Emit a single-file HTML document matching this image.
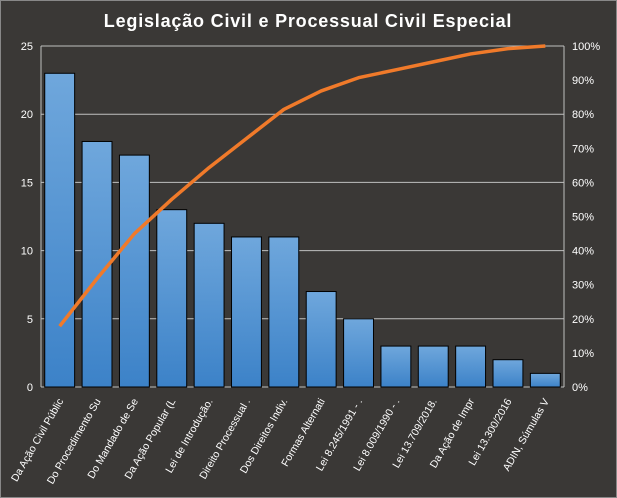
<!DOCTYPE html>
<html><head><meta charset="utf-8"><style>
body{margin:0;background:#3a3836;}
svg{display:block;font-family:"Liberation Sans",sans-serif;}
</style></head><body>
<svg id="chart" width="617" height="498">
<defs><linearGradient id="bg" x1="0" y1="0" x2="0" y2="1"><stop offset="0" stop-color="#6fa7dc"/><stop offset="1" stop-color="#3c82c8"/></linearGradient></defs>
<rect x="0.5" y="0.5" width="616" height="497" fill="#3a3836" stroke="#888"/>
<text x="308" y="27" text-anchor="middle" fill="#fff" font-size="18" font-weight="bold" letter-spacing="0.8">Legislação  Civil  e Processual  Civil Especial</text>
<g id="grid"></g><g id="bars"></g><g id="line"></g><g id="axes"></g>
</svg>
<script>
const categories=["Da Ação Civil Públic","Do Procedimento Su","Do Mandado de Se","Da Ação Popular (L","Lei de Introdução.","Direito Processual .","Dos Direitos Indiv.","Formas Alternati","Lei 8.245/1991 - .","Lei 8.009/1990 - .","Lei 13.709/2018.","Da Ação de Impr","Lei 13.300/2016","ADIN, Súmulas V"];
const counts=[23,18,17,13,12,11,11,7,5,3,3,3,2,1];
const leftTicks=[0,5,10,15,20,25];
const rightTicks=[0,10,20,30,40,50,60,70,80,90,100];
const NS="http://www.w3.org/2000/svg";
const L=41,R=564,T=46,B=387;
const slot=(R-L)/categories.length;
const y=v=>B-(v/25)*(B-T);
const yp=p=>B-(p/100)*(B-T);
const xc=i=>L+slot*(i+0.5);
function mk(tag,attrs,parent){const e=document.createElementNS(NS,tag);for(const k in attrs)e.setAttribute(k,attrs[k]);document.getElementById(parent).appendChild(e);return e;}
leftTicks.forEach(t=>{
 const g=mk("line",{x1:L,x2:R,y1:y(t),y2:y(t),stroke:"#bfbfbf","stroke-width":1},"grid");
 
 
 const tx=mk("text",{x:L-8,y:y(t)+4,"text-anchor":"end",fill:"#fff","font-size":11},"axes");
 tx.textContent=t;
 
 
});
rightTicks.forEach(t=>{
 const tx=mk("text",{x:R+8,y:yp(t)+4,fill:"#fff","font-size":11},"axes");
 tx.textContent=t+"%";
 
 
});
const ax=mk("line",{x1:L,x2:L,y1:T,y2:B,stroke:"#bfbfbf"},"axes");


const ax2=mk("line",{x1:R,x2:R,y1:T,y2:B,stroke:"#bfbfbf"},"axes");


const total=counts.reduce((a,b)=>a+b,0);
let cum=0;const pts=[];
counts.forEach((v,i)=>{
 const bw=slot*0.8;
 const r=mk("rect",{x:xc(i)-bw/2,y:y(v),width:bw,height:B-y(v),fill:"url(#bg)",stroke:"#000","stroke-width":1},"bars");
 
 
 cum+=v;pts.push(xc(i)+","+yp(cum/total*100));
 const tx=mk("text",{transform:`translate(${xc(i)+4},${B+14}) rotate(-60)`,"text-anchor":"end",fill:"#fff","font-size":10.5},"axes");
 tx.textContent=categories[i];
 
 
});
const pl=mk("polyline",{points:pts.join(" "),fill:"none",stroke:"#f07a2a","stroke-width":3.5,"stroke-linejoin":"round"},"line");


</script>
</body></html>
